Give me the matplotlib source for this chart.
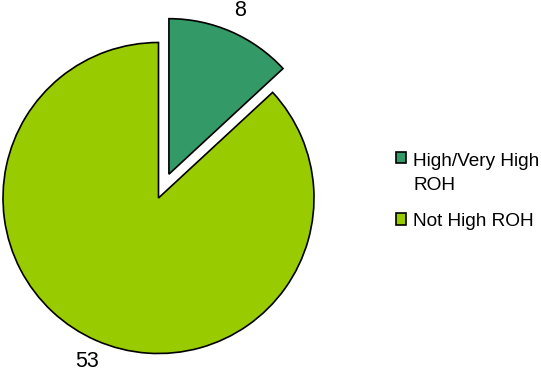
import matplotlib
matplotlib.use("Agg")
import matplotlib.pyplot as plt
import matplotlib.patches as mpatches
from matplotlib.legend_handler import HandlerPatch

# ROH counts
categories = ["High/Very High\nROH", "Not High ROH"]
counts = [8, 53]
colors = ["#339966", "#99CC00"]

plt.rcParams['font.family'] = ['Liberation Sans', 'DejaVu Sans']

fig = plt.figure(figsize=(5.41, 3.77), dpi=100)
ax = fig.add_axes([0, 0, 1, 1])

# explode is in data units here (pixels), since the axes span the figure
wedges, texts = ax.pie(counts, explode=[26, 0], colors=colors,
                       labels=[str(c) for c in counts], labeldistance=1.15,
                       startangle=90, counterclock=False,
                       radius=155.5, center=(158.5, 179),
                       wedgeprops=dict(edgecolor="black", linewidth=1.2),
                       textprops=dict(fontsize=15.5, color="black"))
for t in texts:
    t.set_ha("center")

ax.set_xlim(0, 541)
ax.set_ylim(0, 377)
ax.set_aspect("equal")
ax.axis("off")


# legend square sits beside the first line of a wrapped label
def top_square(legend, orig_handle, xdescent, ydescent, width, height, fontsize):
    lift = 11 if "\n" in orig_handle.get_label() else 0
    return mpatches.Rectangle((-xdescent, -ydescent + lift), width, height)


for w, c in zip(wedges, categories):
    w.set_label(c)

leg = ax.legend(wedges, categories, loc="center left", bbox_to_anchor=(0.70, 0.493),
                frameon=False, fontsize=13.7, handlelength=0.55, handleheight=0.55,
                handletextpad=0.37, labelspacing=1.0,
                handler_map={mpatches.Wedge: HandlerPatch(patch_func=top_square)})
for t in leg.get_texts():
    t.set_linespacing(1.55)

fig.savefig("out.png", dpi=100)
